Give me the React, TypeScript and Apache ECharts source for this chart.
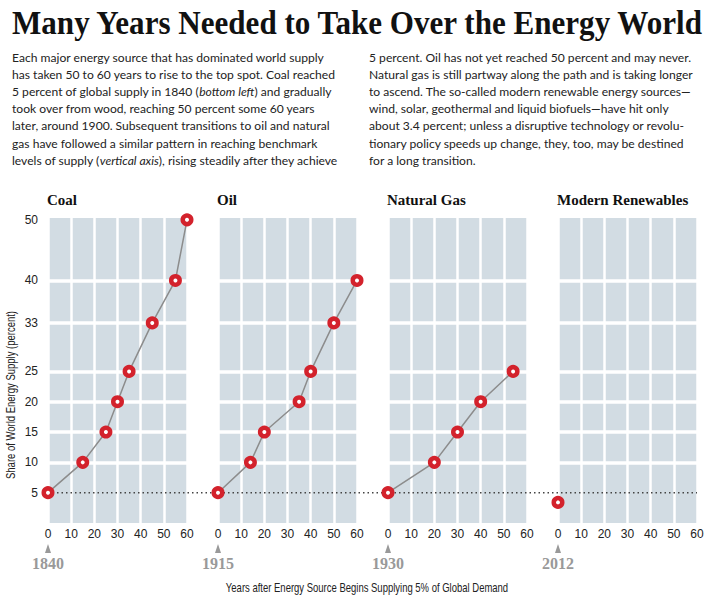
import React, { useEffect, useRef } from "react";
import * as echarts from "echarts";

const panelNames = ["Coal", "Oil", "Natural Gas", "Modern Renewables"];
const startYears = ["1840", "1915", "1930", "2012"];

const coalYears = [0, 15, 25, 30, 35, 45, 55, 60];
const coalShare = [5, 10, 15, 20, 25, 33, 40, 50];
const oilYears = [0, 14, 20, 35, 40, 50, 60];
const oilShare = [5, 10, 15, 20, 25, 33, 40];
const gasYears = [0, 20, 30, 40, 54];
const gasShare = [5, 10, 15, 20, 25];
const renewYears = [0];
const renewShare = [3.4];

const yTickLabels = [5, 10, 15, 20, 25, 33, 40, 50];
const yGridLines = [10, 15, 20, 25, 33, 40];
const benchmark = 5;

const leftText = [
  "Each major energy source that has dominated world supply",
  "has taken 50 to 60 years to rise to the top spot. Coal reached",
  "5 percent of global supply in 1840 ({i|bottom left}) and gradually",
  "took over from wood, reaching 50 percent some 60 years",
  "later, around 1900. Subsequent transitions to oil and natural",
  "gas have followed a similar pattern in reaching benchmark",
  "levels of supply ({i|vertical axis}), rising steadily after they achieve",
];
const rightText = [
  "5 percent. Oil has not yet reached 50 percent and may never.",
  "Natural gas is still partway along the path and is taking longer",
  "to ascend. The so-called modern renewable energy sources—",
  "wind, solar, geothermal and liquid biofuels—have hit only",
  "about 3.4 percent; unless a disruptive technology or revolu-",
  "tionary policy speeds up change, they, too, may be destined",
  "for a long transition.",
];

const seriesData = [
  [coalYears, coalShare],
  [oilYears, oilShare],
  [gasYears, gasShare],
  [renewYears, renewShare],
];

const GRID_LEFTS = [48, 218, 388, 558];
const GRID_W = 139;
const GRID_TOP = 218;
const GRID_BOTTOM = 78;
const Y_MAX = 50.3;
const SANS = "'Liberation Sans', Arial, sans-serif";
const SERIF = "'Liberation Serif', serif";
const BODY_SIZE = 12.1;

export default function App() {
  const ref = useRef<HTMLDivElement>(null);
  useEffect(() => {
    if (!ref.current) return;
    const chart = echarts.init(ref.current, null, { renderer: "svg" });
    const grids: any[] = GRID_LEFTS.map((l) => ({
      left: l,
      width: GRID_W,
      top: GRID_TOP,
      bottom: GRID_BOTTOM,
      show: true,
      backgroundColor: "#d2dce3",
      borderWidth: 0,
      containLabel: false,
    }));
    grids.push({ left: GRID_LEFTS[0], right: 16, top: GRID_TOP, bottom: GRID_BOTTOM, show: false });

    const xAxes: any[] = GRID_LEFTS.map((_, i) => ({
      type: "value",
      gridIndex: i,
      min: 0,
      max: 60,
      interval: 10,
      axisLine: { show: false },
      axisTick: { show: false },
      axisLabel: { fontSize: 12, color: "#222", fontFamily: SANS, margin: 5 },
      splitLine: { show: true, lineStyle: { color: "#ffffff", width: 2.5 } },
    }));
    xAxes.push({ type: "value", gridIndex: 4, min: 0, max: 1, show: false });

    const yAxes: any[] = GRID_LEFTS.map((_, i) => ({
      type: "value",
      gridIndex: i,
      min: 0,
      max: Y_MAX,
      axisLine: { show: false },
      axisTick: { show: false, customValues: yGridLines },
      axisLabel: {
        show: i === 0,
        customValues: yTickLabels,
        fontSize: 12,
        color: "#222",
        fontFamily: SANS,
        margin: 10,
      },
      splitLine: { show: true, lineStyle: { color: "#ffffff", width: 3.5 } },
    }));
    yAxes.push({ type: "value", gridIndex: 4, min: 0, max: Y_MAX, show: false });

    const series: any[] = seriesData.map(([xs, ys], i) => ({
      type: "line",
      xAxisIndex: i,
      yAxisIndex: i,
      data: xs.map((x, k) => [x, ys[k]]),
      symbol: "circle",
      symbolSize: 8.5,
      clip: false,
      z: 5,
      itemStyle: { color: "#ffffff", borderColor: "#d3222c", borderWidth: 4.5 },
      lineStyle: { color: "#8c8c8c", width: 1.5 },
    }));
    series.push({
      type: "line",
      xAxisIndex: 4,
      yAxisIndex: 4,
      data: [
        [0, benchmark],
        [1, benchmark],
      ],
      symbol: "none",
      z: 3,
      silent: true,
      lineStyle: { color: "#444", width: 1.6, type: [1.5, 3] },
    });

    const graphics: any[] = [];
    graphics.push({
      type: "text",
      x: 12,
      y: 6,
      scaleX: 0.942,
      style: {
        text: "Many Years Needed to Take Over the Energy World",
        font: `bold 33px ${SERIF}`,
        fill: "#111",
      },
    });
    const rich = { i: { fontStyle: "italic", fontFamily: "Lato", fontSize: BODY_SIZE, fill: "#222" } };
    [leftText, rightText].forEach((lines, c) => {
      graphics.push({
        type: "text",
        x: c === 0 ? 12 : 369,
        y: 49,
        style: {
          text: lines.join("\n"),
          fontFamily: "Lato",
          fontSize: BODY_SIZE,
          lineHeight: 17.1,
          fill: "#222",
          rich,
        },
      });
    });
    GRID_LEFTS.forEach((l, i) => {
      graphics.push({
        type: "text",
        x: l - 1,
        y: 200,
        style: {
          text: panelNames[i],
          font: `bold 15px ${SERIF}`,
          fill: "#111",
          textVerticalAlign: "middle",
        },
      });
      graphics.push({
        type: "polygon",
        shape: {
          points: [
            [l, 544],
            [l - 3, 553],
            [l + 3, 553],
          ],
        },
        style: { fill: "#999" },
      });
      graphics.push({
        type: "text",
        x: l,
        y: 563,
        style: {
          text: startYears[i],
          font: `bold 16px ${SERIF}`,
          fill: "#999",
          textAlign: "center",
          textVerticalAlign: "middle",
        },
      });
    });
    graphics.push({
      type: "text",
      x: 10,
      y: 395,
      rotation: Math.PI / 2,
      scaleX: 0.73,
      style: {
        text: "Share of World Energy Supply (percent)",
        fontFamily: SANS,
        fontSize: 13,
        fill: "#222",
        textAlign: "center",
        textVerticalAlign: "middle",
      },
    });
    graphics.push({
      type: "text",
      x: 367,
      y: 587,
      scaleX: 0.73,
      style: {
        text: "Years after Energy Source Begins Supplying 5% of Global Demand",
        fontFamily: SANS,
        fontSize: 13,
        fill: "#222",
        textAlign: "center",
        textVerticalAlign: "middle",
      },
    });

    chart.setOption({
      animation: false,
      backgroundColor: "#ffffff",
      grid: grids,
      xAxis: xAxes,
      yAxis: yAxes,
      series,
      graphic: graphics,
    });
    return () => chart.dispose();
  }, []);
  return (
    <div
      ref={ref}
      style={{ width: 713, height: 601, position: "absolute", left: 0, top: 0 }}
    />
  );
}
